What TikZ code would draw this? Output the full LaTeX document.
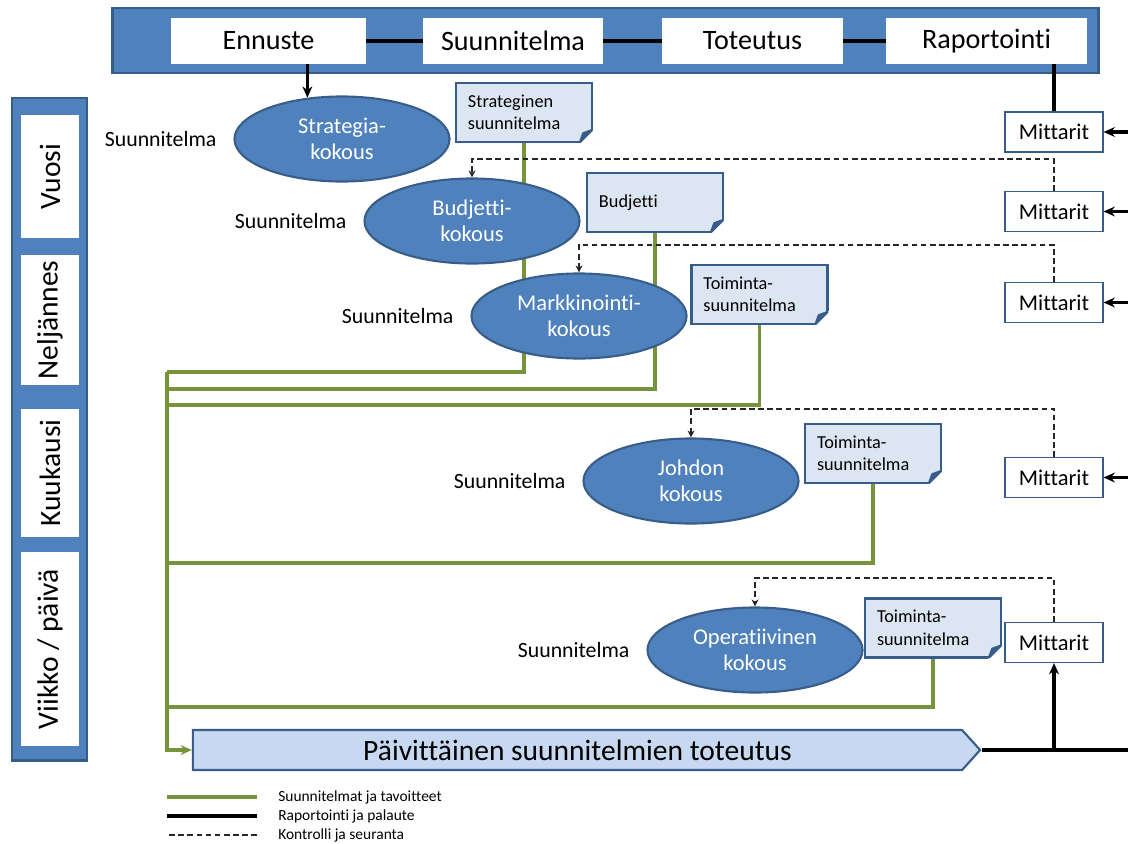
\documentclass[tikz,border=0pt]{standalone}
\usepackage{fontspec}
\setmainfont{Carlito}[Ligatures=NoCommon]
\usetikzlibrary{positioning, arrows.meta, shapes.geometric, shapes.symbols, backgrounds}
\definecolor{barblue}{HTML}{4F81BD}
\definecolor{edgeblue}{HTML}{385D8A}
\definecolor{docfill}{HTML}{DCE6F2}
\definecolor{runfill}{HTML}{C6D9F1}
\definecolor{plangreen}{HTML}{77933C}
\tikzset{
  >={Stealth[length=8pt, width=7pt]}, % makes the arrow heads bold
  bluebar/.style={draw=edgeblue, fill=barblue, line width=2pt, inner sep=0pt}, % the blue bars at the top and on the left
  phase/.style={fill=white, inner sep=0pt, minimum height=1.15cm, font=\fontsize{20}{22}\selectfont}, % white boxes inside the bars
  period/.style={phase, rotate=90, minimum height=1.45cm, font=\fontsize{21}{24}\selectfont}, % time spans on the left
  meeting/.style={ellipse, draw=edgeblue, fill=barblue, line width=1.5pt, text=white, align=center,
    minimum width=5.375cm, minimum height=2.125cm, inner sep=0pt, font=\fontsize{16}{18.5}\selectfont}, % the meetings
  plan label/.style={font=\fontsize{15.5}{18}\selectfont}, % text left of each meeting
  docbox/.style={rectangle, draw=edgeblue, fill=docfill, line width=1.8pt, minimum width=3.4cm, minimum height=1.475cm,
    text width=2.8cm, inner xsep=0.3cm, inner ysep=0pt, outer sep=0pt, align=left, font=\fontsize{13}{16}\selectfont}, % documents
  fold/.style={draw=edgeblue, fill=edgeblue, line width=1.5pt, line join=round}, % folded corner of a document
  meterbox/.style={draw=edgeblue, fill=white, line width=0.8pt, minimum width=2.45cm, minimum height=1cm,
    inner sep=0pt, font=\fontsize{16}{18}\selectfont}, % the Mittarit boxes
  runbar/.style={signal, signal to=east, signal pointer angle=96, draw=edgeblue, fill=runfill, line width=1.5pt,
    minimum width=19.675cm, minimum height=1cm, inner sep=0pt, font=\fontsize{21}{24}\selectfont}, % daily work
  planline/.style={draw=plangreen, line width=2.5pt}, % plans and targets
  reportline/.style={draw=black, line width=2.2pt}, % reporting and feedback
  controlline/.style={draw=black!85, line width=0.9pt, dash pattern=on 4pt off 2.5pt, -{Stealth[length=5pt, width=5pt]}}, % control
  legend/.style={anchor=west, inner sep=0pt, font=\fontsize{11}{13}\selectfont},
}
\begin{document}
\begin{tikzpicture}[x=0.025cm, y=-0.025cm]
  \useasboundingbox (0,0) rectangle (1128,843);
  \coordinate (rim) at (1128,0);

  % process bar
  \node[bluebar, minimum width=24.625cm, minimum height=1.625cm] (topbar) at (605.5,40.5) {};
  \node[phase, minimum width=4.875cm] (ennuste) at (268.5,41) {Ennuste};
  \node[phase, minimum width=4.5cm] (suunnitelma) at (513,41) {Suunnitelma};
  \node[phase, minimum width=4.525cm] (toteutus) at (752.5,41) {Toteutus};
  \node[phase, minimum width=5.025cm] (raportointi) at (986.5,41) {Raportointi};
  \draw[reportline] (ennuste) -- (suunnitelma) (suunnitelma) -- (toteutus) (toteutus) -- (raportointi);

  % time spans
  \node[bluebar, minimum width=1.875cm, minimum height=16.55cm] (sidebar) at (49.5,429) {};
  \node[period, minimum width=3.05cm] (vuosi) at (50,176.5) {Vuosi};
  \node[period, minimum width=3.25cm] (neljannes) at (50,320) {Neljännes};
  \node[period, minimum width=3.2cm] (kuukausi) at (50,473) {Kuukausi};
  \node[period, minimum width=4.85cm] (viikko) at (50,649) {Viikko / päivä};

  % meetings
  \node[meeting] (strategia) at (342,139) {Strategia-\\kokous};
  \node[meeting] (budjetti) at (472,221) {Budjetti-\\kokous};
  \node[meeting] (markkinointi) at (579,316) {Markkinointi-\\kokous};
  \node[meeting] (johdon) at (691,481) {Johdon\\kokous};
  \node[meeting] (operatiivinen) at (755,650) {Operatiivinen\\kokous};
  \node[plan label, left=0.3cm of strategia] (sl_1) {Suunnitelma};
  \node[plan label, left=0.3cm of budjetti] (sl_2) {Suunnitelma};
  \node[plan label, left=0.3cm of markkinointi] (sl_3) {Suunnitelma};
  \node[plan label, left=0.3cm of johdon] (sl_4) {Suunnitelma};
  \node[plan label, left=0.3cm of operatiivinen] (sl_5) {Suunnitelma};

  % documents
  \node[docbox] (doc_1) at (524,112.5) {Strateginen\\suunnitelma\\[-3pt]};
  \node[docbox] (doc_2) at (655,202.5) {Budjetti\\[-8pt]};
  \node[docbox] (doc_3) at (759.5,294.5) {Toiminta-\\suunnitelma};
  \node[docbox] (doc_4) at (873,453.5) {Toiminta-\\suunnitelma};
  \node[docbox] (doc_5) at (933,628) {Toiminta-\\suunnitelma};
  \foreach \d in {1,...,5} {
    \fill[white] ([xshift=-0.36cm, yshift=-0.06cm]doc_\d.south east) -- ([xshift=0.06cm, yshift=-0.06cm]doc_\d.south east)
      -- ([xshift=0.06cm, yshift=0.36cm]doc_\d.south east) -- cycle;
    \filldraw[fold] ([xshift=-0.3cm]doc_\d.south east) -- ([yshift=0.3cm]doc_\d.south east)
      -- ([xshift=-0.22cm, yshift=0.22cm]doc_\d.south east) -- cycle;
  }

  % measures
  \node[meterbox] (mittarit_1) at (1054,132) {Mittarit};
  \node[meterbox] (mittarit_2) at (1054,211.5) {Mittarit};
  \node[meterbox] (mittarit_3) at (1054,302.5) {Mittarit};
  \node[meterbox] (mittarit_4) at (1054,477.5) {Mittarit};
  \node[meterbox] (mittarit_5) at (1054,642.5) {Mittarit};

  \node[runbar] (paivittainen) at (577.5,750) {Päivittäinen suunnitelmien toteutus};

  % plans go down to the daily work
  \begin{scope}[on background layer]
    \coordinate (g_1) at (167,372);
    \coordinate (g_2) at (167,389);
    \coordinate (g_3) at (167,405);
    \coordinate (g_4) at (167,563);
    \coordinate (g_5) at (167,707);
    \draw[planline] (doc_1.south) |- (g_1);
    \draw[planline] (doc_2.south) |- (g_2);
    \draw[planline] (doc_3.south) |- (g_3);
    \draw[planline] (doc_4.south) |- (g_4);
    \draw[planline] (doc_5.south) |- (g_5);
    \draw[planline, ->] (g_1) |- (paivittainen.west);
  \end{scope}

  % reporting
  \draw[reportline, ->] (ennuste.south -| strategia.130) -- (strategia.130);
  \draw[reportline] (raportointi.south -| mittarit_1.north) -- (mittarit_1.north);
  \foreach \m in {1,...,4}
    \draw[reportline, ->] (rim |- mittarit_\m.east) -- (mittarit_\m.east);
  \draw[reportline] (paivittainen.east) -- (rim |- paivittainen.east);
  \draw[reportline, ->] (mittarit_5.south |- paivittainen.east) -- (mittarit_5.south);

  % control
  \draw[controlline] (mittarit_2.north) -- ++(0,-32) -| (budjetti.north);
  \draw[controlline] (mittarit_3.north) -- ++(0,-37) -| (markkinointi.north);
  \draw[controlline] (mittarit_4.north) -- ++(0,-48) -| (johdon.north);
  \draw[controlline] (mittarit_5.north) -- ++(0,-44) -| (operatiivinen.north);

  % legend
  \node[legend] (lg_plan) at (278,797) {Suunnitelmat ja tavoitteet};
  \node[legend] (lg_report) at (278,816) {Raportointi ja palaute};
  \node[legend] (lg_control) at (278,835) {Kontrolli ja seuranta};
  \draw[planline] ([xshift=-0.525cm]lg_plan.west) -- ++(-90,0);
  \draw[reportline] ([xshift=-0.525cm]lg_report.west) -- ++(-90,0);
  \draw[controlline, -] ([xshift=-0.525cm]lg_control.west) -- ++(-90,0);
\end{tikzpicture}
\end{document}
